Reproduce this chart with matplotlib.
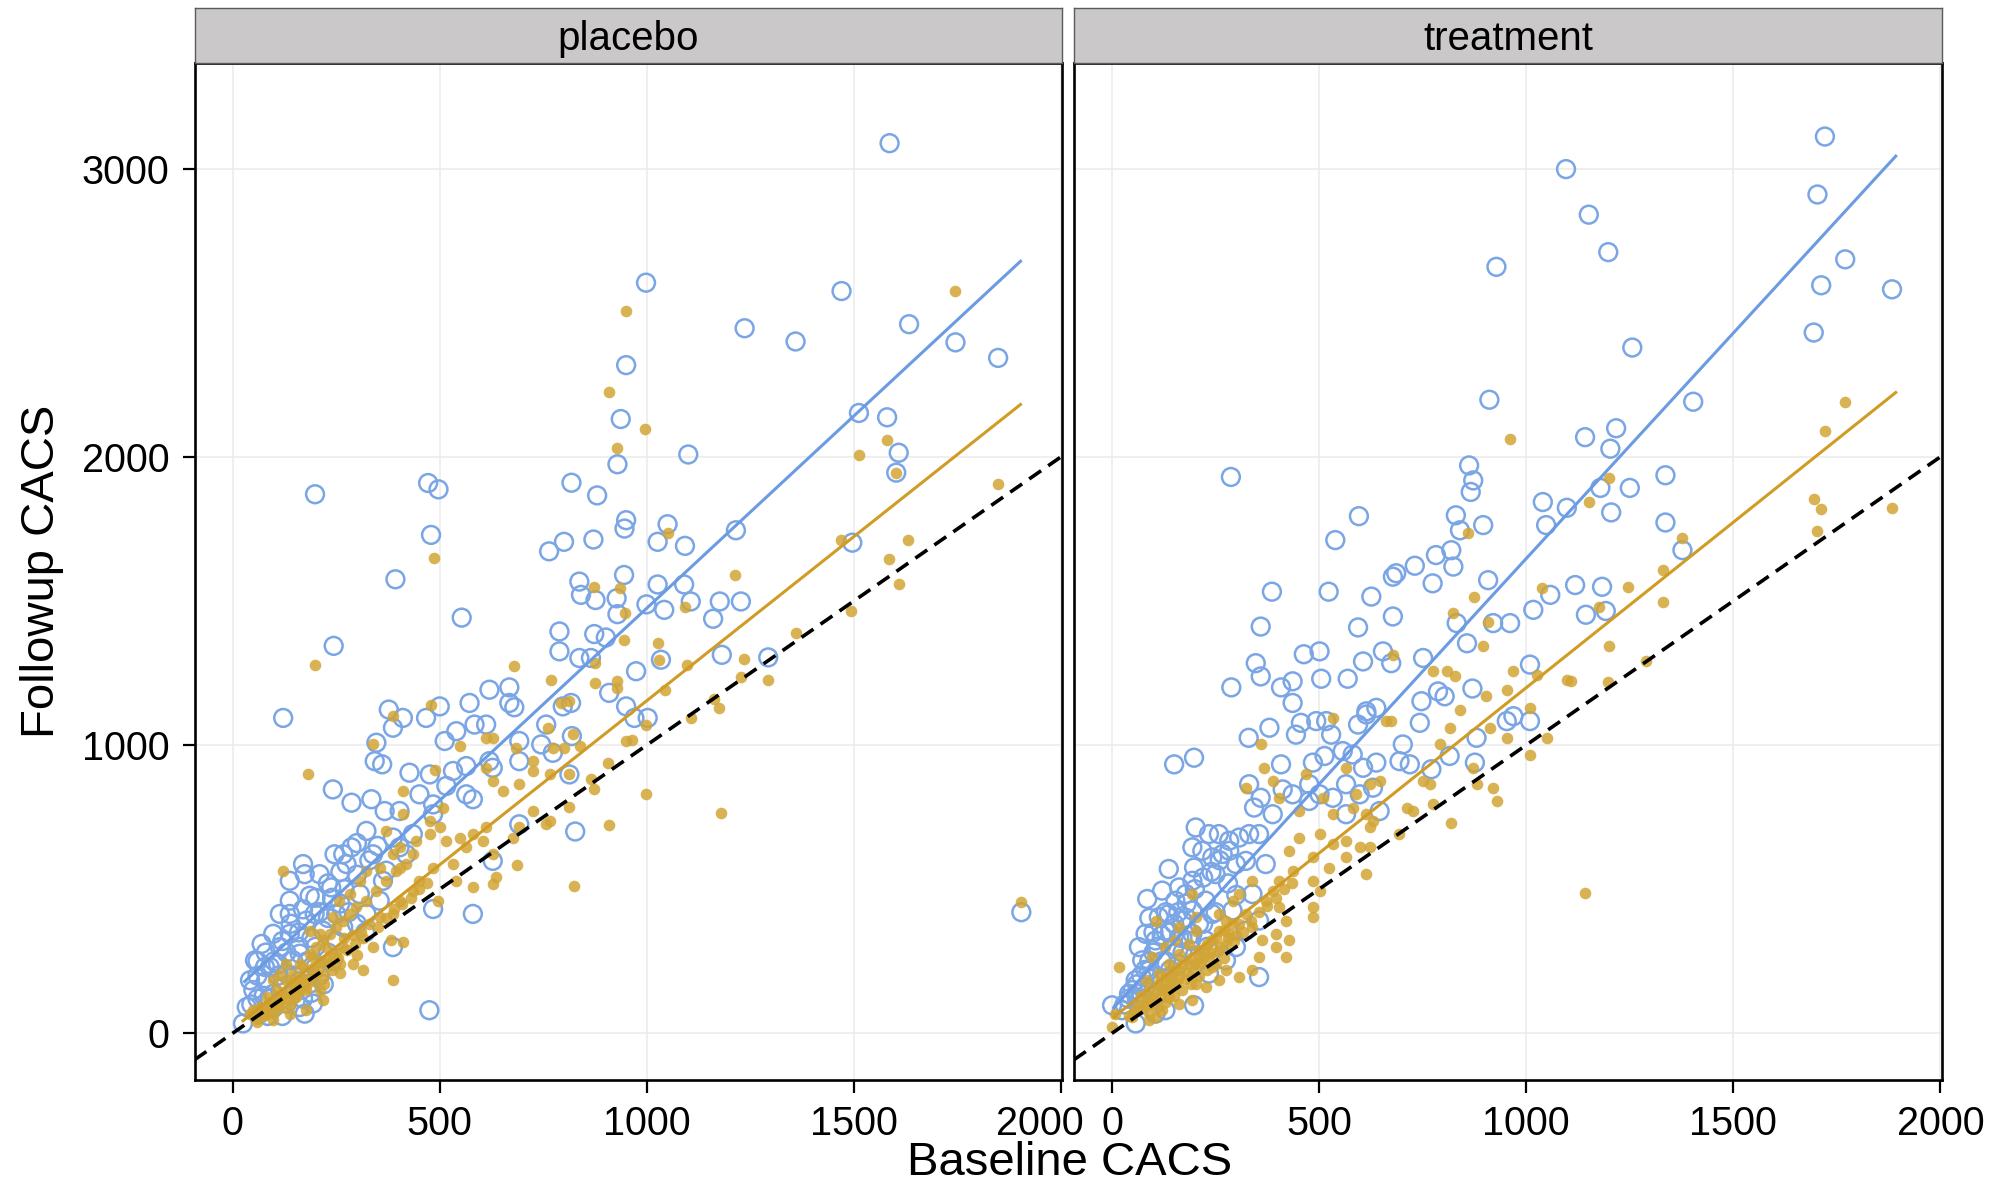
import numpy as np
import matplotlib
matplotlib.use("Agg")
import matplotlib.pyplot as plt
from matplotlib.transforms import ScaledTranslation

plt.rcParams["font.family"] = ["Liberation Sans", "DejaVu Sans"]

# painel placebo: pontos (baseline, followup)
placebo_blue = [
    (1586, 3088), (998, 2604), (1470, 2575), (950, 2318), (1236, 2446), (1359, 2400),
    (1633, 2460), (1745, 2397), (1848, 2343), (937, 2131), (1512, 2152), (1580, 2137),
    (1608, 2014), (1602, 1945), (929, 1974), (1100, 2008), (818, 1910), (880, 1866),
    (950, 1780), (946, 1751), (1050, 1766), (1215, 1745), (800, 1705), (871, 1713),
    (1026, 1705), (1092, 1691), (1496, 1702), (199, 1870), (472, 1909), (497, 1887),
    (479, 1729), (393, 1575), (764, 1672),
    (1904, 420), (827, 700), (1293, 1304), (1181, 1313), (1160, 1438), (1176, 1498),
    (1227, 1498), (1090, 1557), (1106, 1498), (1026, 1557), (999, 1488), (1042, 1469),
    (945, 1590), (927, 1509), (929, 1454), (837, 1567), (841, 1521), (876, 1503),
    (873, 1385), (901, 1373), (789, 1394), (789, 1325), (837, 1302), (865, 1302),
    (1034, 1296), (974, 1256), (909, 1181), (817, 1146), (950, 1134), (970, 1094),
    (1002, 1094), (819, 1031), (813, 898),
    (553, 1442), (244, 1344), (122, 1094), (797, 1134), (757, 1071), (668, 1200),
    (620, 1192), (572, 1146), (668, 1146), (680, 1131), (500, 1134), (467, 1094),
    (377, 1123), (411, 1094), (387, 1060), (347, 1008), (343, 944), (361, 933),
    (512, 1014), (540, 1048), (584, 1071), (612, 1071), (620, 944), (427, 904),
    (476, 898), (532, 910), (564, 927), (242, 846), (287, 800), (335, 812),
    (367, 771), (403, 771), (451, 829), (484, 794), (516, 858), (564, 829),
    (580, 812), (484, 760), (692, 1014), (745, 1002), (773, 973), (692, 944),
    (628, 921), (692, 725), (628, 598), (323, 702), (287, 645), (246, 621),
    (275, 587), (170, 587), (174, 552), (210, 552), (138, 460), (186, 477),
    (138, 414), (198, 414), (238, 506), (250, 414), (307, 483), (363, 529),
    (371, 564), (403, 645), (435, 691), (484, 431), (580, 414), (387, 299),
    (475, 80), (98, 345), (70, 310), (54, 253), (78, 230), (114, 299),
    (138, 345), (162, 276), (130, 207), (42, 184), (34, 91), (25, 34),
    (66, 68), (98, 137), (130, 103), (162, 91), (194, 103), (174, 68),
    (186, 172), (90, 230), (146, 253), (218, 356), (267, 368), (267, 621),
    (138, 529), (114, 414), (178, 391), (323, 414), (355, 460), (419, 621),
    (387, 679), (339, 621),
    (50, 150), (60, 200), (80, 180), (100, 250), (110, 200), (120, 160),
    (150, 200), (160, 300), (180, 250), (200, 300), (200, 230), (230, 280),
    (250, 320), (90, 120), (120, 60), (150, 150), (60, 120), (100, 90),
    (140, 130), (170, 120), (210, 200), (240, 250), (280, 420), (300, 380),
    (320, 350), (260, 450), (230, 400),
    (60, 250), (80, 280), (120, 320), (140, 380), (160, 350), (190, 330),
    (210, 420), (240, 470), (270, 500), (300, 550), (330, 600), (350, 650),
    (300, 660), (260, 560), (230, 520), (200, 470), (170, 430), (130, 280),
    (110, 240), (75, 130), (45, 100), (85, 60), (160, 180), (190, 140),
    (220, 170),
]

placebo_gold = [
    (950, 2506), (908, 2224), (996, 2097), (927, 2030), (1745, 2575), (1512, 2005),
    (1580, 2057), (1848, 1907), (1631, 1713), (1468, 1713), (1050, 1737), (1584, 1647),
    (1602, 1945), (485, 1650),
    (1904, 454), (1213, 1590), (873, 1549), (935, 1544), (948, 1457), (946, 1365),
    (1026, 1353), (1030, 1296), (1093, 1480), (1098, 1279), (876, 1284), (876, 1215),
    (927, 1221), (929, 1198), (1044, 1192), (1235, 1299), (1359, 1388), (1494, 1465),
    (1608, 1557), (1293, 1227), (1227, 1235), (1162, 1158), (1174, 1129), (1106, 1094),
    (999, 1071), (964, 1019), (950, 1013), (821, 1037), (801, 990), (839, 996),
    (905, 938), (865, 881), (873, 846), (999, 829), (813, 785), (909, 723),
    (1180, 763), (825, 512), (813, 898), (813, 1152),
    (198, 1278), (182, 900), (122, 564), (680, 1273), (769, 1227), (793, 1146),
    (761, 1060), (773, 990), (724, 944), (684, 990), (628, 1025), (548, 996),
    (612, 921), (628, 875), (652, 841), (692, 864), (724, 910), (765, 898),
    (724, 771), (692, 714), (765, 737), (757, 725), (676, 679), (628, 621),
    (636, 541), (628, 518), (580, 506), (540, 529), (532, 587), (484, 575),
    (496, 460), (451, 529), (435, 495), (403, 460), (387, 414), (355, 403),
    (339, 299), (387, 184), (291, 241), (315, 218), (411, 316), (383, 322),
    (371, 702), (411, 841), (476, 737), (508, 783), (604, 668), (564, 645),
    (339, 1002), (387, 1100), (480, 1140), (612, 1025), (411, 760), (687, 585),
    (488, 915),
    (42, 68), (66, 91), (82, 126), (106, 149), (130, 184), (146, 207),
    (162, 241), (186, 276), (202, 299), (218, 322), (234, 345), (250, 368),
    (267, 391), (283, 414), (299, 437), (323, 460), (347, 495), (371, 529),
    (395, 564), (419, 587), (66, 68), (98, 45), (138, 68), (178, 80),
    (210, 149), (218, 114), (178, 149), (154, 126), (122, 91), (82, 68),
    (114, 126), (162, 184), (202, 207), (242, 264), (267, 299), (226, 299),
    (194, 264), (170, 230), (146, 172), (130, 241), (114, 207), (98, 184),
    (106, 103), (186, 356), (210, 345), (242, 403), (258, 460), (283, 483),
    (307, 529), (323, 564), (355, 575), (403, 575), (387, 621), (443, 668),
    (476, 691), (500, 714), (516, 668), (548, 679), (580, 691), (612, 714),
    (403, 645), (435, 621),
    (50, 80), (70, 60), (90, 110), (110, 90), (130, 140), (150, 160),
    (170, 190), (190, 200), (210, 230), (230, 260), (250, 280), (270, 330),
    (290, 340), (310, 350), (120, 130), (140, 100), (160, 150), (180, 170),
    (200, 180), (220, 200), (240, 220), (260, 240), (100, 70), (80, 90),
    (60, 50),
    (60, 40), (75, 75), (95, 95), (115, 115), (135, 120), (155, 140),
    (175, 160), (195, 225), (215, 250), (235, 240), (255, 260), (275, 290),
    (295, 310), (315, 330), (330, 380), (350, 370), (370, 400), (390, 430),
    (410, 450), (430, 470), (450, 500), (470, 520), (300, 270), (260, 210),
    (220, 170),
]

# painel tratamento
treatment_blue = [
    (1721, 3111), (1096, 2998), (1703, 2910), (1151, 2840), (1198, 2710), (928, 2659),
    (1770, 2685), (1712, 2595), (1883, 2581), (1694, 2431), (1256, 2379), (911, 2198),
    (1403, 2191), (1217, 2099), (1142, 2068), (1203, 2028), (862, 1970), (872, 1918),
    (866, 1878), (1336, 1936), (1179, 1892), (1250, 1892), (1040, 1843), (1098, 1823),
    (1205, 1807), (1336, 1772), (830, 1797), (840, 1745), (896, 1763), (1048, 1763),
    (819, 1676), (1377, 1676),
    (287, 1930), (596, 1794), (539, 1711), (782, 1659), (731, 1622), (686, 1596),
    (678, 1584), (824, 1619), (774, 1561), (908, 1572), (1118, 1555), (386, 1532),
    (523, 1532), (626, 1515), (1183, 1549), (1144, 1452), (1192, 1465),
    (678, 1446), (594, 1408), (359, 1411), (832, 1423), (920, 1423), (961, 1423),
    (1017, 1469), (1058, 1521), (857, 1353), (654, 1325), (463, 1315), (501, 1325),
    (606, 1290), (674, 1284), (751, 1302), (347, 1284), (359, 1238), (288, 1200),
    (408, 1200), (436, 1221), (505, 1230), (569, 1230), (870, 1196), (1009, 1279),
    (787, 1186), (747, 1152), (803, 1169), (436, 1146), (638, 1129), (614, 1117),
    (380, 1060), (330, 1025), (444, 1036), (456, 1077), (493, 1083), (517, 1083),
    (594, 1071), (614, 1106), (529, 1036), (743, 1077), (969, 1100), (1009, 1083),
    (953, 1083), (880, 1025), (702, 1002), (815, 962), (876, 939), (150, 933),
    (198, 956), (408, 933), (485, 939), (513, 962), (557, 979), (581, 967),
    (606, 921), (638, 939), (694, 944), (719, 933), (771, 916), (331, 864),
    (359, 817), (412, 846), (436, 829), (476, 864), (501, 829), (565, 864),
    (598, 829), (630, 852), (343, 783), (388, 760), (476, 806), (533, 817),
    (565, 760), (646, 771), (202, 714), (234, 691), (258, 691), (283, 668),
    (307, 679), (331, 691), (355, 691), (194, 645), (218, 633), (242, 610),
    (283, 633), (267, 622), (299, 587), (323, 598), (371, 587), (250, 552),
    (137, 570), (198, 575), (162, 506), (194, 529), (85, 466), (121, 495),
    (153, 460), (178, 483), (226, 460), (113, 403), (137, 414), (170, 391),
    (194, 426), (242, 414), (291, 426), (339, 483), (81, 345), (105, 322),
    (129, 356), (162, 333), (194, 345), (226, 322), (65, 299), (73, 253),
    (89, 218), (57, 184), (41, 137), (65, 114), (0, 97), (24, 80),
    (57, 34), (129, 80), (198, 97), (234, 207), (355, 195), (275, 253),
    (299, 299), (323, 356), (355, 391), (105, 68),
    (30, 100), (50, 150), (70, 200), (90, 250), (110, 300), (130, 250),
    (150, 300), (170, 280), (190, 320), (100, 200), (120, 180), (140, 220),
    (160, 240), (80, 160), (60, 120), (110, 140), (200, 270), (220, 380),
    (250, 420), (180, 400), (150, 380), (130, 420), (100, 350), (90, 400),
    (40, 120), (60, 170), (80, 220), (100, 280), (120, 340), (140, 350),
    (160, 420), (180, 450), (200, 500), (220, 540), (240, 560), (260, 600),
    (280, 520), (300, 480), (170, 330), (210, 380), (230, 300), (120, 250),
    (90, 190), (70, 140),
]

treatment_gold = [
    (961, 2062), (1770, 2191), (1721, 2091), (1199, 1926), (1151, 1843), (860, 1737),
    (1377, 1719), (1694, 1855), (1712, 1818), (1883, 1823), (1703, 1742),
    (1038, 1544), (874, 1515), (1330, 1608), (1330, 1497), (1245, 1549), (1200, 1345),
    (1175, 1480), (1198, 1217), (1109, 1221), (1290, 1290),
    (824, 1457), (908, 1428), (896, 1342), (678, 1313), (775, 1256), (808, 1256),
    (828, 1238), (969, 1256), (1025, 1244), (1098, 1227), (904, 1169), (953, 1192),
    (840, 1123), (1009, 1129), (815, 1060), (912, 1060), (953, 1025), (791, 1002),
    (1009, 967), (1050, 1025), (1143, 488), (533, 1094), (662, 1083), (674, 1083),
    (359, 1002), (368, 921), (323, 852), (388, 875), (404, 817), (468, 898),
    (565, 921), (622, 864), (646, 875), (589, 829), (581, 783), (509, 817),
    (452, 771), (533, 760), (614, 760), (630, 737), (711, 783), (727, 771),
    (751, 875), (767, 864), (775, 794), (819, 731), (880, 864), (920, 852),
    (929, 806), (872, 921), (694, 691), (622, 714), (565, 668), (598, 645),
    (533, 656), (501, 691), (452, 679), (428, 633), (485, 610), (525, 575),
    (565, 610), (614, 552), (622, 645), (485, 529), (501, 495), (485, 437),
    (436, 564), (404, 529), (388, 495), (371, 460), (404, 437), (420, 391),
    (428, 322), (396, 345), (363, 322), (339, 368), (323, 414), (307, 380),
    (283, 345), (258, 356), (242, 322), (226, 299), (210, 264), (186, 241),
    (162, 218), (145, 195), (129, 172), (113, 149), (97, 126), (81, 103),
    (65, 80), (49, 57), (16, 230), (0, 22), (8, 68), (113, 207),
    (137, 241), (162, 276), (186, 310), (202, 356), (258, 414), (275, 391),
    (291, 460), (307, 483), (339, 529), (202, 403), (162, 368), (129, 299),
    (97, 264), (81, 184), (105, 57), (153, 322), (275, 218), (307, 195),
    (339, 218), (226, 161), (258, 184), (194, 114), (162, 103), (137, 126),
    (89, 45), (121, 80), (202, 172), (242, 230), (105, 391), (194, 483),
    (355, 264), (396, 299), (420, 264), (485, 403),
    (40, 60), (60, 90), (80, 110), (100, 120), (120, 150), (140, 170),
    (160, 190), (180, 210), (200, 240), (220, 260), (240, 280), (260, 300),
    (280, 330), (300, 340), (70, 130), (90, 150), (110, 170), (130, 200),
    (150, 220), (170, 240), (190, 260), (210, 290), (230, 310), (250, 330),
    (270, 360), (290, 380), (150, 130), (130, 110), (110, 90), (90, 70),
    (170, 150), (190, 170), (210, 200), (230, 220), (250, 240), (270, 260),
    (50, 70), (70, 95), (95, 100), (115, 130), (135, 150), (155, 170),
    (175, 190), (195, 215), (215, 240), (235, 265), (255, 285), (275, 310),
    (295, 320), (315, 350), (335, 390), (355, 420), (375, 440), (395, 470),
    (415, 500), (435, 520),
]

# retas ajustadas: (intercepto, inclinacao, x inicial, x final)
placebo_blue_fit = (141, 1.334, 29, 1902)
placebo_gold_fit = (15, 1.139, 25, 1902)
treatment_blue_fit = (82, 1.565, 5, 1892)
treatment_gold_fit = (51, 1.148, 5, 1892)

panel_names = ["placebo", "treatment"]
x_ticks = [0, 500, 1000, 1500, 2000]
y_ticks = [0, 1000, 2000, 3000]

blue = "#7ba6e6"
blue_line = "#6b9be2"
gold = "#d2a535"
gold_line = "#d09c25"

fig = plt.figure(figsize=(19.95, 11.86), dpi=100)

lefts = [0.0975, 0.5383]
width = 0.4350
bottom = 0.0894
top = 0.9466
strip_top = 0.9930

paineis = [
    (placebo_blue, placebo_gold, placebo_blue_fit, placebo_gold_fit),
    (treatment_blue, treatment_gold, treatment_blue_fit, treatment_gold_fit),
]

for i, (nome, (pts_b, pts_g, fit_b, fit_g)) in enumerate(zip(panel_names, paineis)):
    ax = fig.add_axes([lefts[i], bottom, width, top - bottom])
    b = np.array(pts_b, dtype=float)
    g = np.array(pts_g, dtype=float)

    ax.scatter(b[:, 0], b[:, 1], s=165, facecolors="none", edgecolors=blue,
               linewidths=1.8, zorder=2)
    ax.scatter(g[:, 0], g[:, 1], s=70, color=gold, alpha=0.85, linewidths=0,
               zorder=3)

    for (a, m, x0, x1), cor in [(fit_b, blue_line), (fit_g, gold_line)]:
        xs = np.array([x0, x1])
        ax.plot(xs, a + m * xs, color=cor, lw=2.2, zorder=4)

    ax.axline((0, 0), slope=1, color="black", lw=2.6, ls=(0, (4, 2.4)), zorder=5)

    ax.set_xlim(-92, 2003)
    ax.set_ylim(-162, 3365)
    ax.set_xticks(x_ticks)
    ax.set_yticks(y_ticks)
    ax.grid(True, color="#ebebeb", lw=1.1)
    ax.set_axisbelow(True)
    for s in ax.spines.values():
        s.set_color("black")
        s.set_linewidth(1.9)
    ax.tick_params(axis="both", direction="out", length=9, width=1.6,
                   labelsize=28.5, pad=9, colors="black")
    if i == 1:
        ax.tick_params(axis="y", left=False, labelleft=False)
    else:
        # o rótulo 2000 do primeiro painel fica um pouco à esquerda
        rot = ax.get_xticklabels()[-1]
        rot.set_transform(rot.get_transform()
                          + ScaledTranslation(-0.21, 0, fig.dpi_scale_trans))

    # faixa com o nome do painel
    sx = fig.add_axes([lefts[i], top, width, strip_top - top])
    sx.set_facecolor("#cac8c9")
    sx.set_xticks([])
    sx.set_yticks([])
    for s in sx.spines.values():
        s.set_color("#5a5a5a")
        s.set_linewidth(1.0)
    sx.text(0.5, 0.45, nome, ha="center", va="center", fontsize=29,
            transform=sx.transAxes)

fig.text(0.536, 0.019, "Baseline CACS", ha="center", va="center", fontsize=34)
fig.text(0.021, 0.518, "Followup CACS", ha="center", va="center", fontsize=34,
         rotation=90)

fig.savefig("out.png", dpi=100)
